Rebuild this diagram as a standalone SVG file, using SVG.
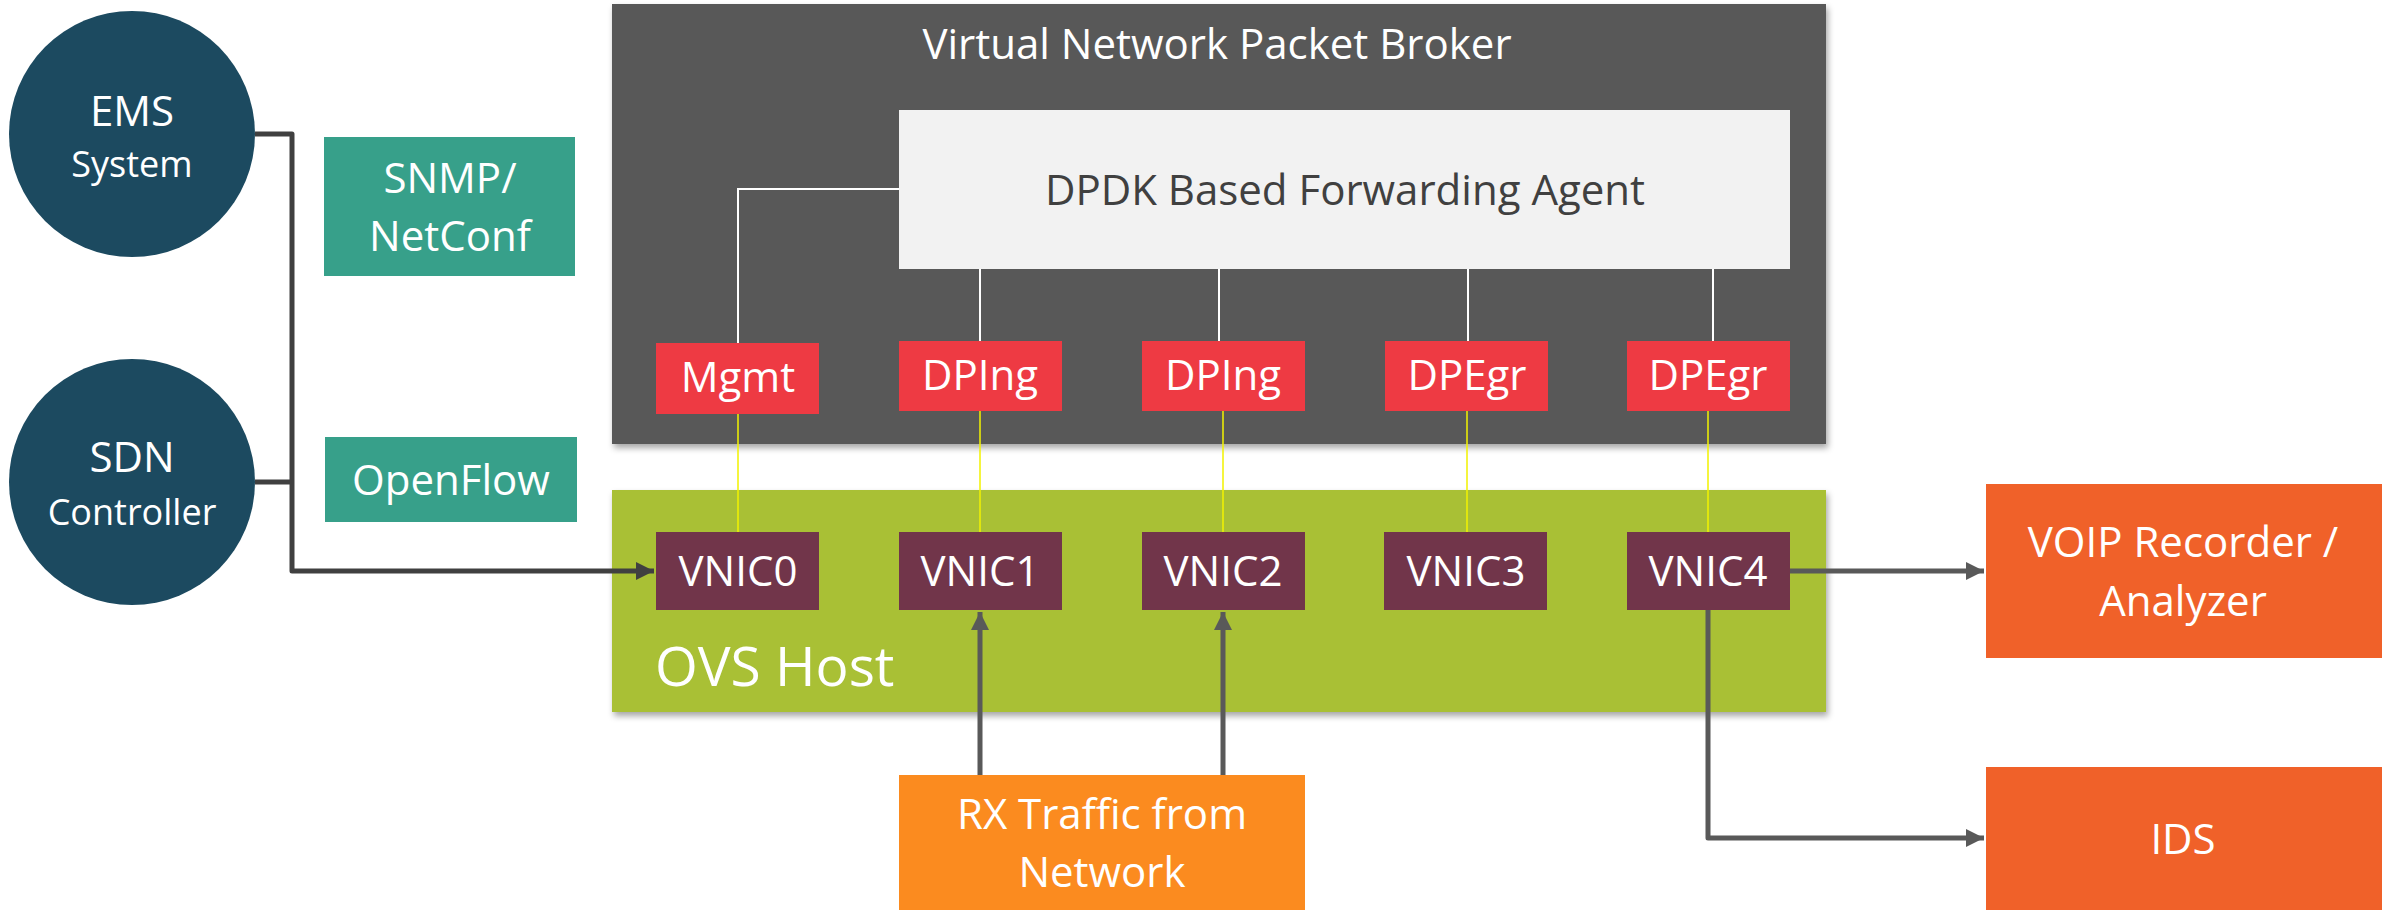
<svg xmlns="http://www.w3.org/2000/svg" width="2382" height="910" viewBox="0 0 2382 910">
<style>
text{font-family:"Open Sans","Liberation Sans",sans-serif;fill:#fff;text-anchor:middle}
.t42{font-size:42px}
.t36{font-size:36px}
.red{fill:#EE3A43}
.vnic{fill:#71354A}
.teal{fill:#37A08A}
.circ{fill:#1C4A60}
.ext{fill:#F06129}
.white{stroke:#fff;stroke-width:2;fill:none}
.yel{stroke:#F2F200;stroke-width:1.5;fill:none}
.dark{stroke:#404040;stroke-width:5;fill:none;stroke-linejoin:round}
.gray{stroke:#595959;stroke-width:5;fill:none;stroke-linejoin:round}
</style>
<defs>
<filter id="sh" x="-5%" y="-5%" width="110%" height="115%">
<feDropShadow dx="2" dy="4" stdDeviation="3" flood-color="#000" flood-opacity="0.35"/>
</filter>
<marker id="ad" markerUnits="userSpaceOnUse" markerWidth="20" markerHeight="20" viewBox="0 0 20 20" refX="18" refY="10" orient="auto">
<path d="M0,1 L18,10 L0,19 Z" fill="#404040"/>
</marker>
<marker id="ag" markerUnits="userSpaceOnUse" markerWidth="20" markerHeight="20" viewBox="0 0 20 20" refX="18" refY="10" orient="auto">
<path d="M0,1 L18,10 L0,19 Z" fill="#595959"/>
</marker>
</defs>

<g id="vnpb">
<rect x="612" y="4" width="1214" height="440" fill="#595959" filter="url(#sh)"/>
<text class="t42" x="1217" y="59">Virtual Network Packet Broker</text>
</g>
<g id="ovs-host">
<rect x="612" y="490" width="1214" height="222" fill="#A9C034" filter="url(#sh)"/>
<text x="655" y="686" style="font-size:55px;text-anchor:start">OVS Host</text>
</g>

<g id="connectors">
<path class="white" d="M899,189 H738 V343"/>
<path class="white" d="M980,269 V341 M1219,269 V341 M1468,269 V341 M1713,269 V341"/>
<path class="yel" d="M738,414 V532 M980,411 V532 M1223,411 V532 M1467,411 V532 M1708,411 V532"/>
<path class="dark" d="M255,134 H292 V571 H654" marker-end="url(#ad)"/>
<path class="dark" d="M255,482 H292"/>
<path class="gray" d="M980,775 V612" marker-end="url(#ag)"/>
<path class="gray" d="M1223,775 V612" marker-end="url(#ag)"/>
<path class="gray" d="M1790,571 H1984" marker-end="url(#ag)"/>
<path class="gray" d="M1708,610 V838 H1984" marker-end="url(#ag)"/>
</g>

<g id="ems">
<circle class="circ" cx="132" cy="134" r="123"/>
<text class="t42" x="132" y="126">EMS</text>
<text class="t36" x="132" y="177">System</text>
</g>
<g id="sdn">
<circle class="circ" cx="132" cy="482" r="123"/>
<text class="t42" x="132" y="472">SDN</text>
<text class="t36" x="132" y="525">Controller</text>
</g>
<g id="snmp">
<rect class="teal" x="324" y="137" width="251" height="139"/>
<text class="t42" x="450" y="193">SNMP/</text>
<text class="t42" x="450" y="251">NetConf</text>
</g>
<g id="openflow">
<rect class="teal" x="325" y="437" width="252" height="85"/>
<text class="t42" x="451" y="495">OpenFlow</text>
</g>

<g id="dpdk">
<rect x="899" y="110" width="891" height="159" fill="#F2F2F2"/>
<text class="t42" x="1345" y="205" style="fill:#404040">DPDK Based Forwarding Agent</text>
</g>
<g id="mgmt"><rect class="red" x="656" y="343" width="163" height="71"/><text class="t42" x="738" y="392">Mgmt</text></g>
<g id="dping1"><rect class="red" x="899" y="341" width="163" height="70"/><text class="t42" x="980" y="390">DPIng</text></g>
<g id="dping2"><rect class="red" x="1142" y="341" width="163" height="70"/><text class="t42" x="1223" y="390">DPIng</text></g>
<g id="dpegr1"><rect class="red" x="1385" y="341" width="163" height="70"/><text class="t42" x="1467" y="390">DPEgr</text></g>
<g id="dpegr2"><rect class="red" x="1627" y="341" width="163" height="70"/><text class="t42" x="1708" y="390">DPEgr</text></g>

<g id="vnic0"><rect class="vnic" x="656" y="532" width="163" height="78"/><text class="t42" x="738" y="586">VNIC0</text></g>
<g id="vnic1"><rect class="vnic" x="899" y="532" width="163" height="78"/><text class="t42" x="980" y="586">VNIC1</text></g>
<g id="vnic2"><rect class="vnic" x="1142" y="532" width="163" height="78"/><text class="t42" x="1223" y="586">VNIC2</text></g>
<g id="vnic3"><rect class="vnic" x="1384" y="532" width="163" height="78"/><text class="t42" x="1466" y="586">VNIC3</text></g>
<g id="vnic4"><rect class="vnic" x="1627" y="532" width="163" height="78"/><text class="t42" x="1708" y="586">VNIC4</text></g>

<g id="rx">
<rect x="899" y="775" width="406" height="135" fill="#FB8B1F"/>
<text class="t42" x="1102" y="829">RX Traffic from</text>
<text class="t42" x="1102" y="887">Network</text>
</g>
<g id="voip">
<rect class="ext" x="1986" y="484" width="396" height="174"/>
<text class="t42" x="2183" y="557">VOIP Recorder /</text>
<text class="t42" x="2183" y="616">Analyzer</text>
</g>
<g id="ids">
<rect class="ext" x="1986" y="767" width="396" height="143"/>
<text class="t42" x="2183" y="854">IDS</text>
</g>
</svg>
